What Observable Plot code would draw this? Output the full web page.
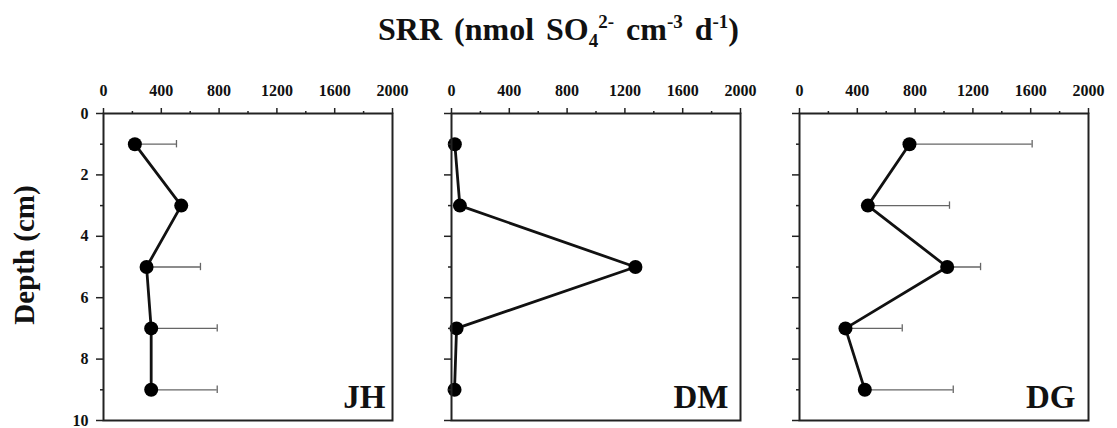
<!DOCTYPE html>
<html><head><meta charset="utf-8">
<script src="https://cdn.jsdelivr.net/npm/d3@7"></script>
<script src="https://cdn.jsdelivr.net/npm/@observablehq/plot@0.6"></script>
<style>
body{margin:0;background:#fff;}
#wrap{position:relative;width:1117px;height:428px;font-family:"Liberation Serif",serif;overflow:hidden;}
#title{position:absolute;top:11px;left:0;width:1117px;text-align:center;font-weight:bold;font-size:32px;color:#111;word-spacing:4px;}
#title sub,#title sup{font-size:19px;}
.panel{position:absolute;top:56px;}
</style></head><body>
<div id="wrap"><div id="title">SRR (nmol SO<sub>4</sub><sup>2-</sup> cm<sup>-3</sup> d<sup>-1</sup>)</div></div>
<script>
const depths = [1, 3, 5, 7, 9];
const sites = ["JH", "DM", "DG"];
const jhSRR = [217, 538, 298, 330, 330];
const jhSD  = [288, null, 373, 457, 457];
const dmSRR = [23, 58, 1273, 35, 21];
const dmSD  = [null, null, null, null, null];
const dgSRR = [761, 473, 1022, 318, 452];
const dgSD  = [849, 565, 231, 393, 612];
const xTicks = [0, 400, 800, 1200, 1600, 2000];
const xMinor = [200, 600, 1000, 1400, 1800];
const yTicks = [0, 2, 4, 6, 8, 10];
const yMinor = [1, 3, 5, 7, 9];

const values = [jhSRR, dmSRR, dgSRR];
const sds = [jhSD, dmSD, dgSD];
const layout = [
  {left: 0, width: 400, ml: 103, labels: true, dx: -7},
  {left: 400, width: 348, ml: 51, labels: false, dx: -12},
  {left: 748, width: 348, ml: 51, labels: false, dx: -13}
];
const font = '"Liberation Serif", serif';

sites.forEach((name, k) => {
  const L = layout[k];
  const data = depths.map((d, i) => ({depth: d, srr: values[k][i], sd: sds[k][i]}));
  const err = data.filter(d => d.sd != null);
  const marks = [
    Plot.ruleY(err, {y: "depth", x1: "srr", x2: d => d.srr + d.sd, stroke: "#666", strokeWidth: 1.3}),
    Plot.ruleX(err, {x: d => d.srr + d.sd, y1: d => d.depth - 0.12, y2: d => d.depth + 0.12, stroke: "#666", strokeWidth: 1.3}),
    Plot.line(data, {x: "srr", y: "depth", stroke: "#111", strokeWidth: 2.8}),
    Plot.dot(data, {x: "srr", y: "depth", r: 7, fill: "#000", stroke: "none"}),
    Plot.frame({stroke: "#222", strokeWidth: 2}),
    Plot.axisX({anchor: "top", ticks: xTicks, tickSize: 6, tickPadding: 12, tickFormat: d => String(d), label: null,
      fontSize: 16, fontWeight: "bold", fontFamily: font, stroke: "#222", strokeWidth: 1.5}),
    Plot.axisX({anchor: "top", ticks: xMinor, tickSize: 3, tickFormat: () => "", label: null, stroke: "#222", strokeWidth: 1.5}),
    Plot.axisY({anchor: "left", ticks: yTicks, tickSize: 7, tickPadding: 8, label: null,
      tickFormat: L.labels ? (d => String(d)) : (() => ""),
      fontSize: 16, fontWeight: "bold", fontFamily: font, stroke: "#222", strokeWidth: 1.5}),
    Plot.axisY({anchor: "left", ticks: yMinor, tickSize: 3, tickFormat: () => "", label: null, stroke: "#222", strokeWidth: 1.5}),
    Plot.text([name], {frameAnchor: "bottom-right", dx: L.dx, dy: -13, textAnchor: "end", lineAnchor: "bottom",
      fontSize: 33, fontWeight: "bold", fontFamily: font, fill: "#111"})
  ];
  if (L.labels) {
    marks.push(Plot.text(["Depth (cm)"], {frameAnchor: "left", dx: -79, dy: -12, rotate: -90, textAnchor: "middle",
      lineAnchor: "middle", fontSize: 29, fontWeight: "bold", fontFamily: font, fill: "#111"}));
  }
  const chart = Plot.plot({
    width: L.width, height: 372,
    marginTop: 57, marginBottom: 8, marginLeft: L.ml, marginRight: 8,
    style: {fontFamily: font, fontWeight: "bold", fontSize: "16px", background: "transparent", overflow: "visible", color: "#111"},
    x: {domain: [0, 2000], label: null},
    y: {domain: [0, 10], reverse: true, label: null},
    marks
  });
  chart.classList.add("panel");
  chart.style.left = L.left + "px";
  document.getElementById("wrap").appendChild(chart);
});
</script>
</body></html>
